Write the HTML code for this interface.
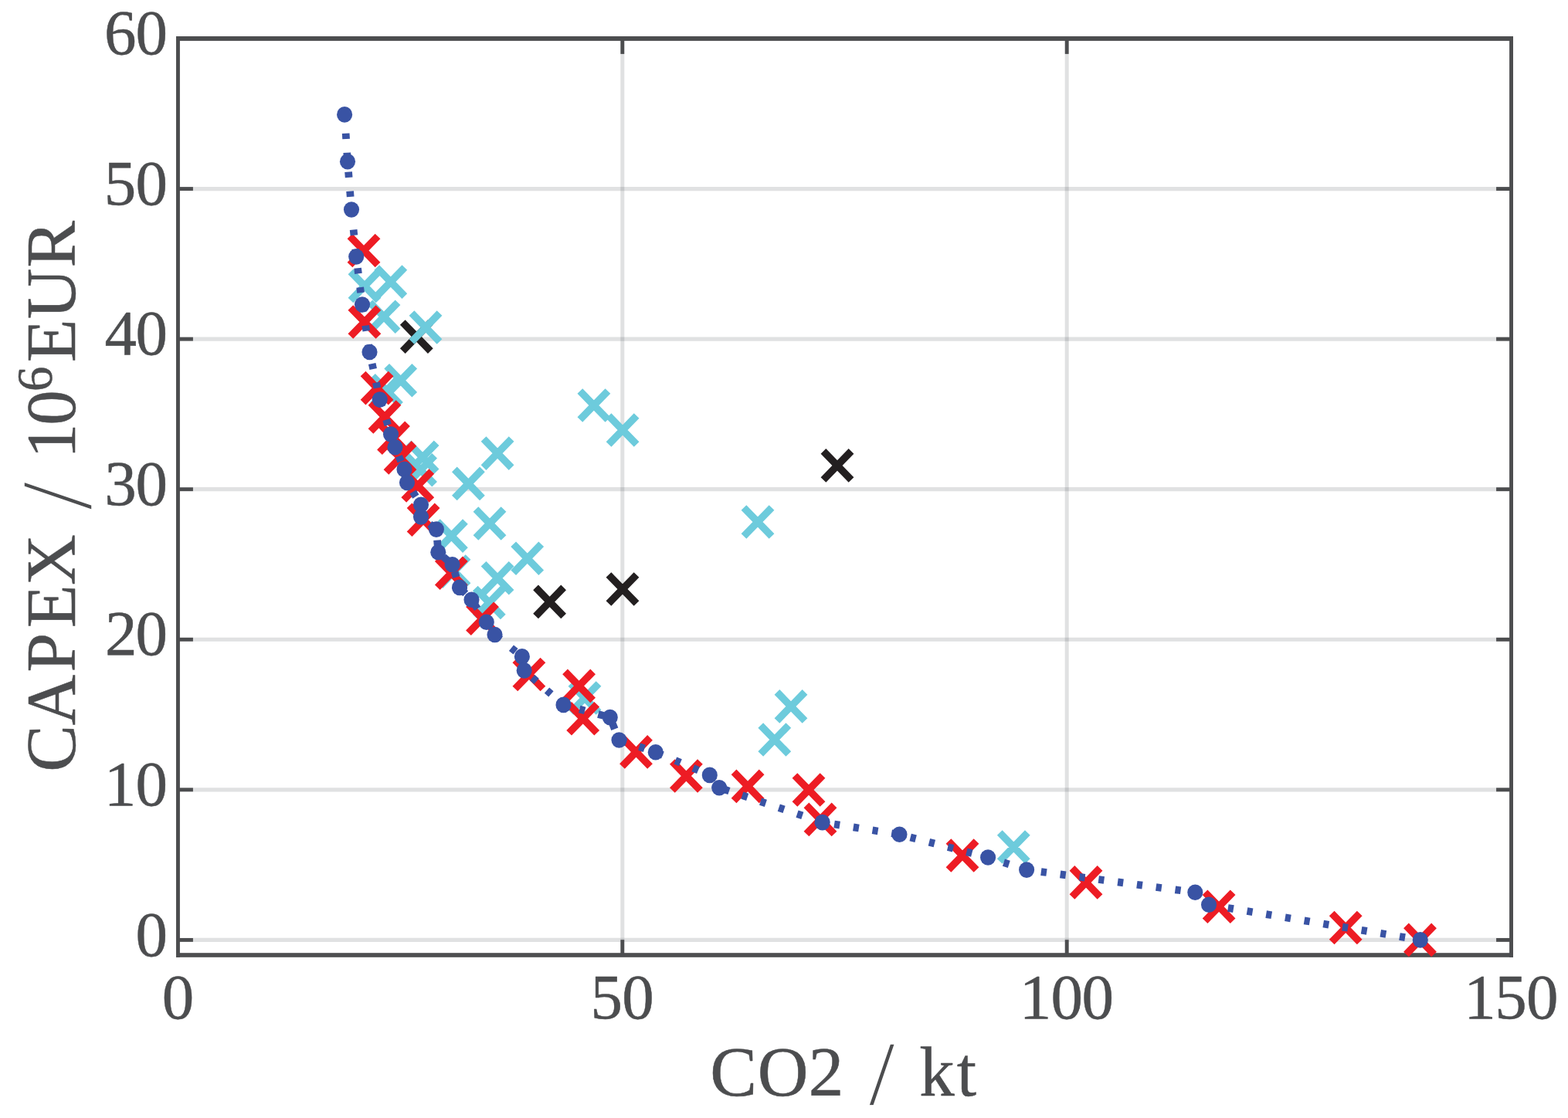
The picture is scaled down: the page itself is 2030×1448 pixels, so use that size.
<!DOCTYPE html>
<html lang="en"><head><meta charset="utf-8"><title>CAPEX / CO2 Pareto front</title>
<style>html,body{margin:0;padding:0;background:#fff;}body{width:2030px;height:1448px;overflow:hidden;}svg{display:block;}text{font-family:"Liberation Serif","DejaVu Serif",serif;fill:#4c4d4f;stroke:#4c4d4f;stroke-width:0.5px;stroke-linejoin:round;}</style>
</head><body>
<svg width="2030" height="1448" viewBox="0 0 2030 1448">
<rect x="0" y="0" width="2030" height="1448" fill="#ffffff"/>
<g stroke="rgba(33,40,48,0.14)" fill="none">
<line x1="805.82" y1="52.90" x2="805.82" y2="1234.20" stroke-width="5"/>
<line x1="1381.18" y1="52.90" x2="1381.18" y2="1234.20" stroke-width="5"/>
<line x1="232.90" y1="1217.40" x2="1954.10" y2="1217.40" stroke-width="5.2"/>
<line x1="232.90" y1="1022.83" x2="1954.10" y2="1022.83" stroke-width="5.2"/>
<line x1="232.90" y1="828.26" x2="1954.10" y2="828.26" stroke-width="5.2"/>
<line x1="232.90" y1="633.69" x2="1954.10" y2="633.69" stroke-width="5.2"/>
<line x1="232.90" y1="439.12" x2="1954.10" y2="439.12" stroke-width="5.2"/>
<line x1="232.90" y1="244.55" x2="1954.10" y2="244.55" stroke-width="5.2"/>
</g>
<g fill="#4c4d4f">
<rect x="228.00" y="47.00" width="1731.00" height="5.90"/>
<rect x="228.00" y="1234.20" width="1731.00" height="5.60"/>
<rect x="228.00" y="47.00" width="4.90" height="1192.80"/>
<rect x="1954.10" y="47.00" width="4.90" height="1192.80"/>
<rect x="803.39" y="1217.20" width="4.85" height="18.00"/>
<rect x="803.39" y="51.90" width="4.85" height="18.00"/>
<rect x="1378.76" y="1217.20" width="4.85" height="18.00"/>
<rect x="1378.76" y="51.90" width="4.85" height="18.00"/>
<rect x="231.90" y="1214.98" width="18.00" height="4.85"/>
<rect x="1937.10" y="1214.98" width="18.00" height="4.85"/>
<rect x="231.90" y="1020.41" width="18.00" height="4.85"/>
<rect x="1937.10" y="1020.41" width="18.00" height="4.85"/>
<rect x="231.90" y="825.84" width="18.00" height="4.85"/>
<rect x="1937.10" y="825.84" width="18.00" height="4.85"/>
<rect x="231.90" y="631.27" width="18.00" height="4.85"/>
<rect x="1937.10" y="631.27" width="18.00" height="4.85"/>
<rect x="231.90" y="436.70" width="18.00" height="4.85"/>
<rect x="1937.10" y="436.70" width="18.00" height="4.85"/>
<rect x="231.90" y="242.13" width="18.00" height="4.85"/>
<rect x="1937.10" y="242.13" width="18.00" height="4.85"/>
</g>
<path d="M521.27 417.57L557.33 454.63M521.27 454.63L557.33 417.57M693.57 760.87L729.63 797.93M693.57 797.93L729.63 760.87M787.97 744.47L824.03 781.53M787.97 781.53L824.03 744.47M1065.97 584.37L1102.03 621.43M1065.97 621.43L1102.03 584.37" stroke="#231f20" stroke-width="9.40" fill="none" stroke-linecap="butt"/>
<path d="M453.97 351.87L490.03 388.93M453.97 388.93L490.03 351.87M487.77 346.57L523.83 383.63M487.77 383.63L523.83 346.57M478.97 391.67L515.03 428.73M478.97 428.73L515.03 391.67M532.97 405.47L569.03 442.53M532.97 442.53L569.03 405.47M500.67 474.27L536.73 511.33M500.67 511.33L536.73 474.27M482.47 487.27L518.53 524.33M482.47 524.33L518.53 487.27M529.07 573.77L565.13 610.83M529.07 610.83L565.13 573.77M526.57 590.17L562.63 627.23M526.57 627.23L562.63 590.17M588.37 607.87L624.43 644.93M588.37 644.93L624.43 607.87M626.07 568.57L662.13 605.63M626.07 605.63L662.13 568.57M566.37 675.57L602.43 712.63M566.37 712.63L602.43 675.57M615.97 659.47L652.03 696.53M615.97 696.53L652.03 659.47M664.67 704.67L700.73 741.73M664.67 741.73L700.73 704.67M626.07 730.27L662.13 767.33M626.07 767.33L662.13 730.27M615.27 761.97L651.33 799.03M615.27 799.03L651.33 761.97M569.97 721.57L606.03 758.63M569.97 758.63L606.03 721.57M738.97 885.47L775.03 922.53M738.97 922.53L775.03 885.47M1005.97 896.37L1042.03 933.43M1005.97 933.43L1042.03 896.37M984.77 939.47L1020.83 976.53M984.77 976.53L1020.83 939.47M1294.27 1078.47L1330.33 1115.53M1294.27 1115.53L1330.33 1078.47M750.87 506.47L786.93 543.53M750.87 543.53L786.93 506.47M788.07 538.47L824.13 575.53M788.07 575.53L824.13 538.47M962.97 657.47L999.03 694.53M962.97 694.53L999.03 657.47" stroke="#6dcbdc" stroke-width="9.40" fill="none" stroke-linecap="butt"/>
<path d="M452.97 305.97L489.03 343.03M452.97 343.03L489.03 305.97M453.87 398.47L489.93 435.53M453.87 435.53L489.93 398.47M470.07 484.07L506.13 521.13M470.07 521.13L506.13 484.07M479.97 521.47L516.03 558.53M479.97 558.53L516.03 521.47M491.47 548.67L527.53 585.73M491.47 585.73L527.53 548.67M499.97 574.37L536.03 611.43M499.97 611.43L536.03 574.37M522.77 610.47L558.83 647.53M522.77 647.53L558.83 610.47M530.07 654.77L566.13 691.83M530.07 691.83L566.13 654.77M566.27 723.67L602.33 760.73M566.27 760.73L602.33 723.67M606.47 782.67L642.53 819.73M606.47 819.73L642.53 782.67M666.87 854.97L702.93 892.03M666.87 892.03L702.93 854.97M731.57 869.87L767.63 906.93M731.57 906.93L767.63 869.87M736.67 912.27L772.73 949.33M736.67 949.33L772.73 912.27M805.47 955.37L841.53 992.43M805.47 992.43L841.53 955.37M870.37 986.47L906.43 1023.53M870.37 1023.53L906.43 986.47M950.07 999.87L986.13 1036.93M950.07 1036.93L986.13 999.87M1028.97 1004.47L1065.03 1041.53M1028.97 1041.53L1065.03 1004.47M1043.97 1042.87L1080.03 1079.93M1043.97 1079.93L1080.03 1042.87M1227.97 1089.47L1264.03 1126.53M1227.97 1126.53L1264.03 1089.47M1387.97 1124.37L1424.03 1161.43M1387.97 1161.43L1424.03 1124.37M1560.07 1155.77L1596.13 1192.83M1560.07 1192.83L1596.13 1155.77M1724.17 1182.97L1760.23 1220.03M1724.17 1220.03L1760.23 1182.97M1820.47 1198.87L1856.53 1235.93M1820.47 1235.93L1856.53 1198.87" stroke="#ed1c24" stroke-width="9.40" fill="none" stroke-linecap="butt"/>
<polyline points="446.1,148.4 450.0,209.3 455.0,271.5 461.2,332.5 469.0,394.5 478.5,456.0 491.7,517.5 506.0,562.5 511.5,579.3 523.5,607.9 527.0,625.0 545.0,653.7 545.0,669.5 564.9,685.6 567.3,715.3 585.6,731.2 595.0,760.9 610.5,776.7 629.8,805.7 640.5,822.0 675.9,850.4 678.7,868.4 729.5,912.9 789.8,929.1 801.5,958.5 848.8,974.2 918.8,1003.9 931.2,1020.2 1064.7,1065.1 1164.5,1080.8 1279.1,1110.5 1329.1,1126.6 1547.3,1155.8 1565.0,1171.8 1838.8,1217.4" fill="none" stroke="#3953a4" stroke-width="9.70" stroke-dasharray="7.200 17.825" stroke-dashoffset="0.6" stroke-linejoin="round"/>
<g fill="#3953a4">
<ellipse cx="446.1" cy="148.4" rx="10.05" ry="10.30"/>
<ellipse cx="450.0" cy="209.3" rx="10.05" ry="10.30"/>
<ellipse cx="455.0" cy="271.5" rx="10.05" ry="10.30"/>
<ellipse cx="461.2" cy="332.5" rx="10.05" ry="10.30"/>
<ellipse cx="469.0" cy="394.5" rx="10.05" ry="10.30"/>
<ellipse cx="478.5" cy="456.0" rx="10.05" ry="10.30"/>
<ellipse cx="491.7" cy="517.5" rx="10.05" ry="10.30"/>
<ellipse cx="506.0" cy="562.5" rx="10.05" ry="10.30"/>
<ellipse cx="511.5" cy="579.3" rx="10.05" ry="10.30"/>
<ellipse cx="523.5" cy="607.9" rx="10.05" ry="10.30"/>
<ellipse cx="527.0" cy="625.0" rx="10.05" ry="10.30"/>
<ellipse cx="545.0" cy="653.7" rx="10.05" ry="10.30"/>
<ellipse cx="545.0" cy="669.5" rx="10.05" ry="10.30"/>
<ellipse cx="564.9" cy="685.6" rx="10.05" ry="10.30"/>
<ellipse cx="567.3" cy="715.3" rx="10.05" ry="10.30"/>
<ellipse cx="585.6" cy="731.2" rx="10.05" ry="10.30"/>
<ellipse cx="595.0" cy="760.9" rx="10.05" ry="10.30"/>
<ellipse cx="610.5" cy="776.7" rx="10.05" ry="10.30"/>
<ellipse cx="629.8" cy="805.7" rx="10.05" ry="10.30"/>
<ellipse cx="640.5" cy="822.0" rx="10.05" ry="10.30"/>
<ellipse cx="675.9" cy="850.4" rx="10.05" ry="10.30"/>
<ellipse cx="678.7" cy="868.4" rx="10.05" ry="10.30"/>
<ellipse cx="729.5" cy="912.9" rx="10.05" ry="10.30"/>
<ellipse cx="789.8" cy="929.1" rx="10.05" ry="10.30"/>
<ellipse cx="801.5" cy="958.5" rx="10.05" ry="10.30"/>
<ellipse cx="848.8" cy="974.2" rx="10.05" ry="10.30"/>
<ellipse cx="918.8" cy="1003.9" rx="10.05" ry="10.30"/>
<ellipse cx="931.2" cy="1020.2" rx="10.05" ry="10.30"/>
<ellipse cx="1064.7" cy="1065.1" rx="10.05" ry="10.30"/>
<ellipse cx="1164.5" cy="1080.8" rx="10.05" ry="10.30"/>
<ellipse cx="1279.1" cy="1110.5" rx="10.05" ry="10.30"/>
<ellipse cx="1329.1" cy="1126.6" rx="10.05" ry="10.30"/>
<ellipse cx="1547.3" cy="1155.8" rx="10.05" ry="10.30"/>
<ellipse cx="1565.0" cy="1171.8" rx="10.05" ry="10.30"/>
<ellipse cx="1838.8" cy="1217.4" rx="10.05" ry="10.30"/>
</g>
<text x="175.61" y="1237.60" font-size="83.00">0</text>
<text x="134.81 175.61" y="1043.03" font-size="83.00">10</text>
<text x="136.07 175.61" y="848.46" font-size="83.00">20</text>
<text x="135.24 175.61" y="653.89" font-size="83.00">30</text>
<text x="135.44 175.61" y="459.32" font-size="83.00">40</text>
<text x="134.82 175.61" y="264.75" font-size="83.00">50</text>
<text x="135.07 175.61" y="70.18" font-size="83.00">60</text>
<text x="209.86" y="1319.00" font-size="83.00">0</text>
<text x="764.44 805.23" y="1319.00" font-size="83.00">50</text>
<text x="1319.79 1360.59 1400.59" y="1319.00" font-size="83.00">100</text>
<text x="1895.16 1935.17 1975.96" y="1319.00" font-size="83.00">150</text>
<text y="1419.00" font-size="91.10"><tspan x="919.36 980.71 1046.68">CO2</tspan> <tspan x="1122.04" y="1438.96" font-size="131.50" stroke="#ffffff" stroke-width="1.5">/</tspan> <tspan x="1190.26 1238.85" y="1419.00">kt</tspan></text>
<rect x="1100" y="1431.1" width="80" height="16.9" fill="#ffffff"/>
<text transform="translate(97.00 997.00) rotate(-90)" y="0" font-size="91.10"><tspan x="-2.74 57.58 126.48 184.03 239.13">CAPEX</tspan> <tspan x="336.42" y="21.29" font-size="131.50" stroke="#ffffff" stroke-width="1.5">/</tspan> <tspan x="402.95 446.27" y="0">10</tspan><tspan x="490.03" y="-29.85" font-size="65.00">6</tspan><tspan x="527.98 583.71 650.59" y="0">EUR</tspan></text>
</svg>
</body></html>
